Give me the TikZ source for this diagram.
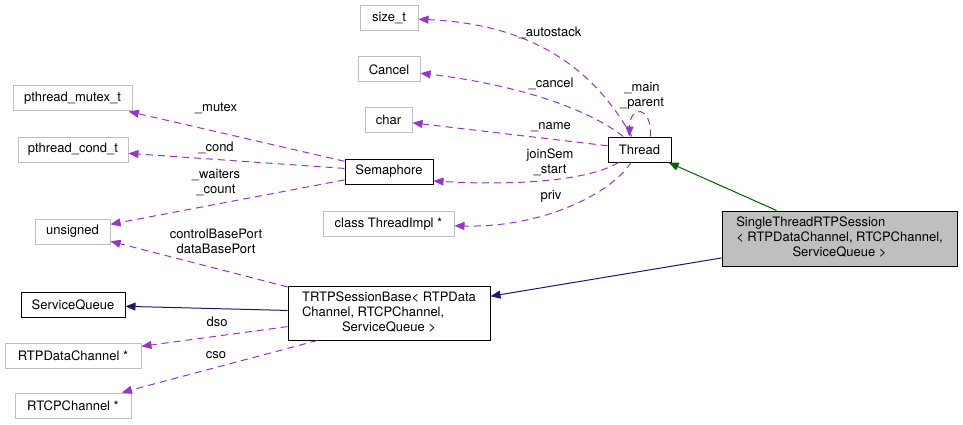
\documentclass[tikz,border=0pt]{standalone}
\usepackage{fontspec}
\setmainfont{TeX Gyre Heros}
\usetikzlibrary{arrows.meta}
\definecolor{usepurple}{RGB}{154,50,205}
\definecolor{inhgreen}{RGB}{0,100,0}
\definecolor{inhnavy}{RGB}{25,25,112}
\definecolor{boxgray}{RGB}{191,191,191}

\begin{document}
\begin{tikzpicture}[x=1pt,y=-1pt,
    font=\fontsize{13}{15}\selectfont,
    cls/.style={draw=black,line width=1pt,inner sep=0pt,minimum height=25pt},
    ext/.style={cls,draw=boxgray},
    lbl/.style={inner sep=0pt,align=center},
    usage/.style={draw=usepurple,line width=1pt,dash pattern=on 7pt off 5pt,
        -{Triangle[length=10pt,width=8pt]}},
    inherit/.style={line width=1pt,-{Triangle[length=10pt,width=8pt]}}]

\useasboundingbox (0,0) rectangle (963,425);

    % members of Thread
    \node[ext,minimum width=58pt]  (sizet)  at (389,18)    {size\_t};
    \node[ext,minimum width=62pt]  (cancel) at (389,69.5)  {Cancel};
    \node[ext,minimum width=47pt]  (char)   at (388.5,120) {char};
    \node[ext,minimum width=131pt] (impl)   at (388.5,224) {class ThreadImpl *};
    \node[cls,minimum width=63pt]  (thread) at (639.5,149.5) {Thread};

    % members of Semaphore
    \node[ext,minimum width=119pt] (mutex)  at (72.5,98.5)  {pthread\_mutex\_t};
    \node[ext,minimum width=110pt] (cond)   at (73,149.5)   {pthread\_cond\_t};
    \node[ext,minimum width=75pt]  (unsig)  at (72.5,231.5) {unsigned};
    \node[cls,minimum width=88pt]  (sema)   at (389,171.5)  {Semaphore};

    % members of TRTPSessionBase
    \node[cls,minimum width=104pt] (squeue) at (73,305)   {ServiceQueue};
    \node[ext,minimum width=136pt] (rtpdata) at (73,355.5) {RTPDataChannel *};
    \node[ext,minimum width=116pt] (rtcp)   at (73,405.5) {RTCPChannel *};
    \node[cls,minimum width=202pt,minimum height=54pt] (trtp) at (389,313)
        {\begin{tabular}{@{}l@{}}TRTPSessionBase< RTPData\\ Channel, RTCPChannel,\\
        \multicolumn{1}{@{}c@{}}{ServiceQueue >}\end{tabular}};

    % the class itself
    \node[cls,fill=boxgray,minimum width=235pt,minimum height=55pt] (single) at (839.5,238.5)
        {\begin{tabular}{@{}l@{}}SingleThreadRTPSession\\ < RTPDataChannel, RTCPChannel,\\
        \multicolumn{1}{@{}c@{}}{ServiceQueue >}\end{tabular}};

    % inheritance
    \draw[inherit,inhgreen] (single) -- (thread);
    \draw[inherit,inhnavy] (single) -- (trtp);
    \draw[inherit,inhnavy] (trtp) -- (squeue);

    % usage from Thread
    \draw[usage] (thread) .. controls (605,90) and (555,25) .. (sizet);
    \draw[usage] (thread) .. controls (590,110) and (520,85) .. (cancel);
    \draw[usage] (thread) -- (char);
    \draw[usage] (thread.50) .. controls (652,105) and (630,105) .. (thread.128);
    \draw[usage] (thread) .. controls (590,180) and (520,186) .. (sema.-12);
    \draw[usage] (thread) .. controls (610,195) and (540,228) .. (impl);

    % usage from Semaphore
    \draw[usage] (sema) -- (mutex);
    \draw[usage] (sema) -- (cond);
    \draw[usage] (sema) -- (unsig);

    % usage from TRTPSessionBase
    \draw[usage] (trtp) -- (unsig);
    \draw[usage] (trtp) -- (rtpdata);
    \draw[usage] (trtp.201) -- (rtcp);

    \node[lbl] (lautostack) at (550,33)  {\_autostack};
    \node[lbl] (lcancel)    at (551,84)  {\_cancel};
    \node[lbl] (lname)      at (551,127) {\_name};
    \node[lbl] (lloop)      at (642,96)  {\_main\\\_parent};
    \node[lbl] (ljoin)      at (550,162) {joinSem\\\_start};
    \node[lbl] (lpriv)      at (551,196) {priv};
    \node[lbl] (lmutex)     at (216,108) {\_mutex};
    \node[lbl] (lcond)      at (216,148) {\_cond};
    \node[lbl] (lwait)      at (216,183) {\_waiters\\\_count};
    \node[lbl] (lport)      at (216,241) {controlBasePort\\dataBasePort};
    \node[lbl] (ldso)       at (217,322) {dso};
    \node[lbl] (lcso)       at (216,355) {cso};

\end{tikzpicture}
\end{document}
